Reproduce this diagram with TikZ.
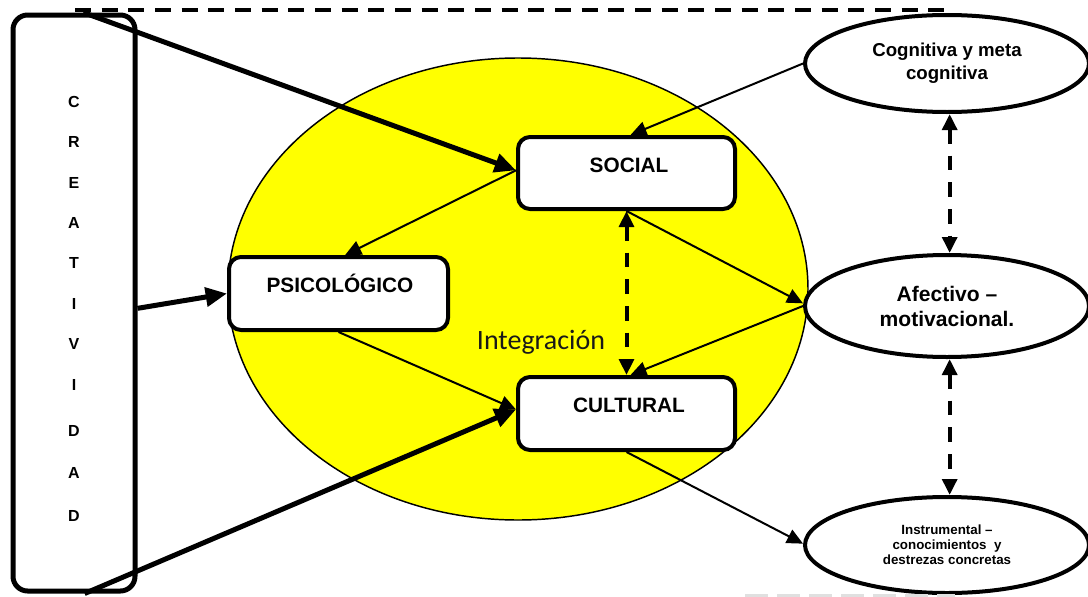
\documentclass[tikz,border=0pt]{standalone}
\usepackage{fontspec}
\setmainfont{Liberation Sans}
\newfontfamily\calfont{Carlito}
\usetikzlibrary{arrows.meta,shapes.geometric,calc}
\definecolor{pureyellow}{RGB}{255,255,0}
\begin{document}
\begin{tikzpicture}[x=0.75pt,y=-0.75pt,
  box/.style={draw, line width=3pt, rounded corners=9pt, fill=white, inner sep=0pt},
  oval/.style={draw, ellipse, line width=3pt, fill=white, inner sep=0pt, minimum width=213pt, align=center, font=\bfseries},
  lbl/.style={font=\bfseries\fontsize{15.6}{18}\selectfont, inner sep=0pt},
  thinarrow/.style={line width=1.5pt, -{Triangle[length=12pt,width=11pt]}},
  thickarrow/.style={line width=3.75pt, -{Triangle[length=16pt,width=14pt]}},
  dblarrow/.style={line width=3pt, dash pattern=on 11pt off 9pt, {Triangle[length=12pt,width=11pt]}-{Triangle[length=12pt,width=11pt]}},
  letter/.style={font=\bfseries\fontsize{12}{14}\selectfont, inner sep=0pt},
]
\useasboundingbox (0,0) rectangle (1088,596);

% yellow integration ellipse
\node[ellipse, draw, fill=pureyellow, line width=1.1pt, minimum width=435pt, minimum height=346.5pt, inner sep=0pt] (integ) at (518,289) {};
\node[font=\calfont\fontsize{21}{24}\selectfont, text=black!90, inner sep=0pt] (integtxt) at (541,342) {Integración};

% boxes
\node[box, minimum width=162.75pt, minimum height=54pt] (soc) at (626.5,173) {};
\node[lbl] (soctxt) at (629,165) {SOCIAL};
\node[box, minimum width=162.75pt, minimum height=54.75pt] (cul) at (626.5,413.5) {};
\node[lbl] (cultxt) at (629,405) {CULTURAL};
\node[box, minimum width=164.25pt, minimum height=54.75pt] (psi) at (338.5,293.5) {};
\node[lbl] (psitxt) at (340,283) {PSICOLÓGICO};

% right ellipses
\node[oval, minimum height=72.75pt, font=\bfseries\fontsize{14}{17.25}\selectfont] (cog) at (947,63.5) {Cognitiva y meta\\cognitiva};
\node[oval, minimum height=76.5pt, font=\bfseries\fontsize{15.8}{18.75}\selectfont] (afe) at (947,306) {Afectivo --\\motivacional.};
\node[oval, minimum height=72pt, font=\bfseries\fontsize{10}{11.4}\selectfont] (ins) at (947,545) {Instrumental --\\conocimientos\ \ y\\destrezas concretas};

% creatividad box
\node[draw, line width=3.75pt, rounded corners=11pt, minimum width=91.5pt, minimum height=432pt, inner sep=0pt] (crea) at (74,303) {};
\foreach \l/\y [count=\i] in {C/102,R/142,E/183,A/223,T/263,I/304,V/344,I/385,D/431,A/473,D/516}
  \node[letter] (let\i) at (74,\y) {\l};

% thin arrows
\draw[thinarrow] (cog.west) -- ([xshift=3pt]soc.north);
\draw[thinarrow] ([yshift=2pt]soc.west) -- ([xshift=5pt]psi.north);
\draw[thinarrow] (soc.south) -- ([yshift=2pt]afe.west);
\draw[thinarrow] (afe.west) -- ([xshift=3pt]cul.north);
\draw[thinarrow] (psi.south) -- ([yshift=3pt]cul.west);
\draw[thinarrow] (cul.south) -- ([yshift=1pt]ins.west);

% thick arrows from creatividad
\draw[thickarrow] ([xshift=7pt]crea.north) -- ([yshift=2pt]soc.west);
\draw[thickarrow] ([yshift=-4pt]crea.east) -- (psi.west);
\draw[thickarrow] ([xshift=8pt]crea.south) -- ([yshift=3pt]cul.west);

% dashed double arrows
\draw[dblarrow] (soc.south) -- (cul.north);
\draw[dblarrow] ([xshift=2pt]cog.south) -- ([xshift=2pt]afe.north);
\draw[dblarrow] ([xshift=2pt]afe.south) -- ([xshift=2pt]ins.north);

% top dashed line
\coordinate (topstart) at (75,10);
\coordinate (topend) at (950,10);
\draw[line width=3pt, dash pattern=on 12pt off 8pt] (topstart) -- (topend);

% faint line at bottom
\coordinate (botstart) at (745,596);
\coordinate (botend) at (955,596);
\draw[black!12, line width=3pt, dash pattern=on 17pt off 7pt] (botstart) -- (botend);
\end{tikzpicture}
\end{document}
